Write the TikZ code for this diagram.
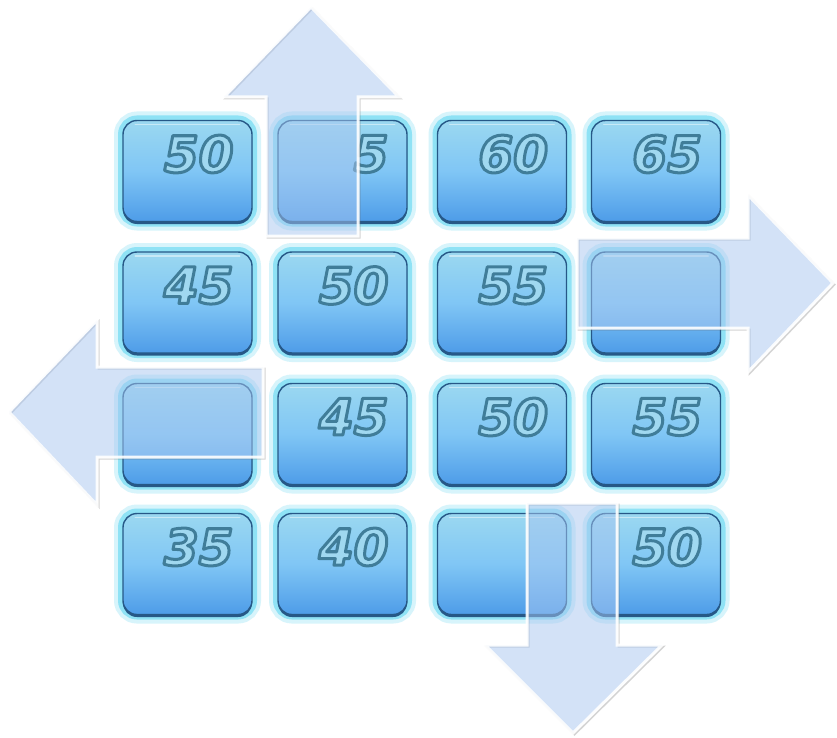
\documentclass[tikz,border=0pt]{standalone}
\usepackage{fontspec}
\newfontfamily\numfont{DejaVu Sans}
\definecolor{tiletop}{RGB}{155,216,240}
\definecolor{tilemid}{RGB}{128,198,245}
\definecolor{tilebot}{RGB}{78,156,232}
\definecolor{tileedge}{RGB}{38,88,135}
\definecolor{glowc}{RGB}{96,214,242}
\definecolor{numfill}{RGB}{160,216,240}
\definecolor{arrowfill}{RGB}{168,198,240}
% outlined digits: fill + stroke text rendering
\newcommand{\tilenum}[1]{\special{pdf:code q 2 Tr 3 w 1 j 0.25 0.49 0.6 RG}#1\special{pdf:code Q}}
\begin{document}
\begin{tikzpicture}[x=1pt,y=-1pt,
  tile/.style={rounded corners=14pt, minimum width=129pt, minimum height=101pt, inner sep=0pt,
    preaction={draw=glowc, line width=18pt, draw opacity=0.25},
    preaction={draw=glowc, line width=10pt, draw opacity=0.6},
    preaction={fill=tileedge, transform canvas={yshift=-2.5pt}},
    top color=tiletop, bottom color=tilebot, middle color=tilemid,
    draw=tileedge, line width=1.4pt},
  rim/.style={draw=white, draw opacity=0.45, line width=1.5pt, line cap=round},
  numstyle/.style={font=\numfont\bfseries\itshape\fontsize{50}{50}\selectfont,
    text=numfill, inner sep=0pt, anchor=east, xshift=-19pt, yshift=17pt},
  bigarrow/.style={fill=arrowfill, fill opacity=0.5, draw=white, draw opacity=0.9,
    line width=3pt, line join=miter},
  arrowshadow/.style={draw=black!60, line width=2pt, draw opacity=0.28, line join=miter, shift={(1.5,1.5)}}
]
\useasboundingbox (0,0) rectangle (837,738);
\fill[white] (0,0) rectangle (837,738);

% tiles, row 1
\node[tile, label={[numstyle]east:{\tilenum{50}}}] (b11) at (187.5,171) {};
\node[tile, label={[numstyle]east:{\tilenum{5}}}]  (b12) at (342.5,171) {};
\node[tile, label={[numstyle]east:{\tilenum{60}}}] (b13) at (502,171) {};
\node[tile, label={[numstyle]east:{\tilenum{65}}}] (b14) at (656,171) {};
% row 2
\node[tile, label={[numstyle]east:{\tilenum{45}}}] (b21) at (187.5,302.5) {};
\node[tile, label={[numstyle]east:{\tilenum{50}}}] (b22) at (342.5,302.5) {};
\node[tile, label={[numstyle]east:{\tilenum{55}}}] (b23) at (502,302.5) {};
\node[tile] (b24) at (656,302.5) {};
% row 3
\node[tile] (b31) at (187.5,434) {};
\node[tile, label={[numstyle]east:{\tilenum{45}}}] (b32) at (342.5,434) {};
\node[tile, label={[numstyle]east:{\tilenum{50}}}] (b33) at (502,434) {};
\node[tile, label={[numstyle]east:{\tilenum{55}}}] (b34) at (656,434) {};
% row 4
\node[tile, label={[numstyle]east:{\tilenum{35}}}] (b41) at (187.5,564) {};
\node[tile, label={[numstyle]east:{\tilenum{40}}}] (b42) at (342.5,564) {};
\node[tile] (b43) at (502,564) {};
\node[tile, label={[numstyle]east:{\tilenum{50}}}] (b44) at (656,564) {};

% top rim highlight of each tile
\foreach \n in {b11,b12,b13,b14,b21,b22,b23,b24,b31,b32,b33,b34,b41,b42,b43,b44}{
  \draw[rim] ([xshift=13pt,yshift=-4.5pt]\n.north west) -- ([xshift=-13pt,yshift=-4.5pt]\n.north east);
}

% arrows: up, right, left, down
\foreach \p in {
  {(266,236) -- (266,97) -- (224,97) -- (311,7) -- (399,97) -- (358,97) -- (358,236) -- cycle},
  {(577,238) -- (748,238) -- (748,195) -- (833,283) -- (748,372) -- (748,328) -- (577,328) -- cycle},
  {(263,367) -- (97,367) -- (97,320) -- (9,412) -- (97,505) -- (97,457) -- (263,457) -- cycle},
  {(527,503) -- (617,503) -- (617,645) -- (662,645) -- (573,733) -- (485,645) -- (527,645) -- cycle}
}{
  \draw[arrowshadow] \p;
  \draw[bigarrow] \p;
}
\end{tikzpicture}
\end{document}
